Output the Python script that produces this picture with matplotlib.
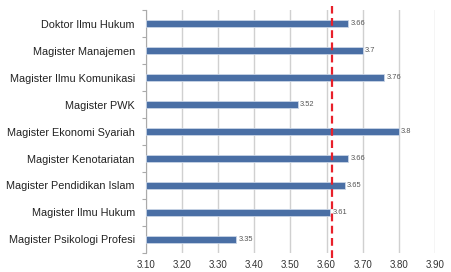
import matplotlib.pyplot as plt
import numpy as np
from matplotlib.ticker import FixedLocator

plt.rcParams["font.family"] = ["Liberation Sans", "DejaVu Sans"]

programs = [
    "Doktor Ilmu Hukum",
    "Magister Manajemen",
    "Magister Ilmu Komunikasi",
    "Magister PWK",
    "Magister Ekonomi Syariah",
    "Magister Kenotariatan",
    "Magister Pendidikan Islam",
    "Magister Ilmu Hukum",
    "Magister Psikologi Profesi",
]
scores = [3.66, 3.7, 3.76, 3.52, 3.8, 3.66, 3.65, 3.61, 3.35]
score_labels = ["3.66", "3.7", "3.76", "3.52", "3.8", "3.66", "3.65", "3.61", "3.35"]
reference_line = 3.615
x_ticks = [3.10, 3.20, 3.30, 3.40, 3.50, 3.60, 3.70, 3.80, 3.90]

fig = plt.figure(figsize=(4.52, 2.72), dpi=100)
ax = fig.add_axes([0.323, 0.070, 0.639, 0.893])

y = np.arange(len(programs))
ax.barh(y, [s - 3.10 for s in scores], left=3.10, height=0.27,
        color="#4a6fa5", edgecolor="#c8d4e6", linewidth=0.6, zorder=3)

for yi, s, lab in zip(y, scores, score_labels):
    ax.text(s + 0.006, yi, lab, va="center", ha="left", fontsize=5.4,
            color="#555555", zorder=4)

ax.axvline(reference_line, ymin=-0.02, ymax=1.015, clip_on=False,
           color="#e8202a", linestyle=(0, (3.5, 2)), linewidth=1.6, zorder=5)

ax.set_xlim(3.10, 3.90)
ax.set_ylim(len(programs) - 0.5, -0.5)
ax.set_xticks(x_ticks)
ax.set_xticklabels([f"{t:.2f}" for t in x_ticks], fontsize=7, color="#333333")
ax.set_yticks(y)
ax.set_yticklabels(programs, fontsize=7.8, color="#222222")
ax.tick_params(axis="y", which="major", length=0, pad=8)
ax.yaxis.set_minor_locator(FixedLocator(np.arange(-0.5, len(programs), 1)))
ax.tick_params(axis="y", which="minor", length=3, color="#aaaaaa", width=0.8)
ax.tick_params(axis="x", length=0, pad=5)

ax.grid(axis="x", color="#d0d0d0", linewidth=1.0, zorder=0)
for side in ["top", "right", "bottom"]:
    ax.spines[side].set_visible(False)
ax.spines["left"].set_color("#aaaaaa")
ax.spines["left"].set_linewidth(0.8)

fig.savefig("out.png", dpi=100)
